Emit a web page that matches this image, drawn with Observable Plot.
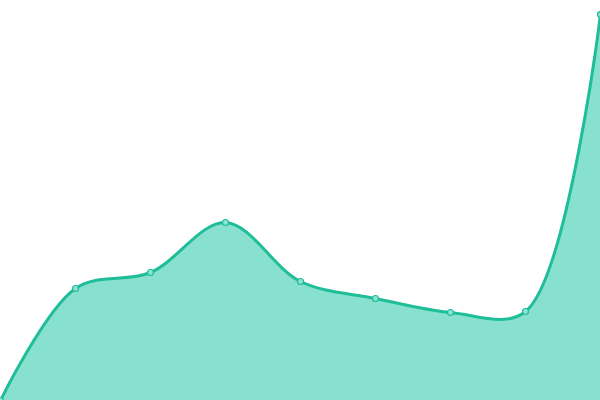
<!DOCTYPE html>
<html>
<head>
<meta charset="utf-8">
<script src="https://cdn.jsdelivr.net/npm/d3@7"></script>
<script src="https://cdn.jsdelivr.net/npm/@observablehq/plot@0.6"></script>
<style>
html, body { margin: 0; padding: 0; background: white; }
</style>
</head>
<body>
<div id="chart"></div>
<script>
const xs = [0, 1, 2, 3, 4, 5, 6, 7, 8];
const values = [0, 112, 128, 178, 119, 102, 88, 89, 386];
const data = xs.map((x, i) => ({x, v: values[i]}));

const chart = Plot.plot({
  width: 600,
  height: 400,
  margin: 0,
  x: {domain: [0, 8], axis: null},
  y: {domain: [0, 400], axis: null},
  marks: [
    Plot.areaY(data, {x: "x", y: "v", curve: "catmull-rom", fill: "#88e0cf"}),
    Plot.lineY(data, {x: "x", y: "v", curve: "catmull-rom", stroke: "#1fbd98", strokeWidth: 3}),
    Plot.dot(data, {x: "x", y: "v", r: 3, fill: "#8ee3d2", stroke: "#1fbd98", strokeWidth: 1.2})
  ]
});
document.getElementById("chart").appendChild(chart);
</script>
</body>
</html>
